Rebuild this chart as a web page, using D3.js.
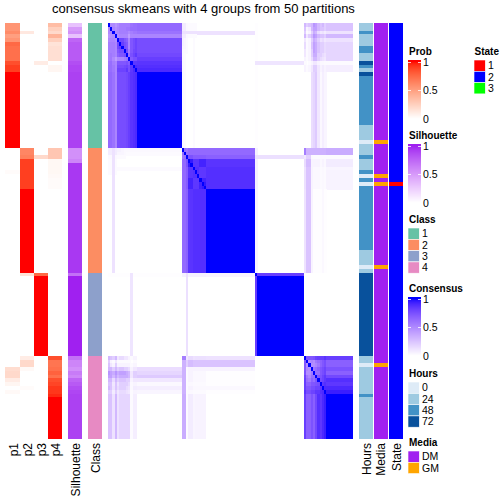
<!DOCTYPE html>
<html><head><meta charset="utf-8">
<script src="https://cdn.jsdelivr.net/npm/d3@7/dist/d3.min.js"></script>
<style>html,body{margin:0;padding:0;background:#fff}svg{display:block}text{font-family:"Liberation Sans",Arial,sans-serif;fill:#000}</style>
</head><body><svg id="c" width="504" height="504"></svg>
<script>
const title = "consensus skmeans with 4 groups from 50 partitions";
const classSizes = [33, 33, 22, 22];

const p1 = [.55,.55,.6,.5,.55,.75,.72,.72,.72,.72,.85,.9,.9,1,1,1,1,1,1,1,1,1,1,1,1,1,1,1,1,1,1,1,1,
  0,0,0,0,0,0,.02,0,0,0,0,0,0,0,0,0,0,0,0,0,0,0,0,0,0,0,0,0,0,0,0,0,0,
  0,0,0,0,0,0,0,0,0,0,0,0,0,0,0,0,0,0,0,0,0,0,
  0,0,0,.18,.2,.2,.1,.05,0,.03,0,0,0,0,0,0,0,0,0,0,0,0];
const p2 = [0,0,.12,0,0,0,0,0,0,0,0,0,0,0,0,0,0,0,0,0,0,0,0,0,0,0,0,0,0,0,0,0,0,
  .62,.62,.65,.9,.9,.9,.9,.9,.9,.9,.9,1,1,1,1,1,1,1,1,1,1,1,1,1,1,1,1,1,1,1,1,1,1,
  .15,0,0,0,0,0,0,0,0,0,0,0,0,0,0,0,0,0,0,0,0,0,
  .1,.2,.2,.03,0,0,0,0,.02,0,0,0,0,0,0,0,0,0,0,0,0,0];
const p3 = [0,0,0,0,0,0,0,0,0,0,.1,0,0,0,0,0,0,0,0,0,0,0,0,0,0,0,0,0,0,0,0,0,0,
  0,0,.2,0,0,0,0,0,0,0,0,0,0,0,0,0,0,0,0,0,0,0,0,0,0,0,0,0,0,0,0,0,0,
  .75,1,1,1,1,1,1,1,1,1,1,1,1,1,1,1,1,1,1,1,1,1,
  0,0,0,0,0,0,0,0,0,0,0,0,0,0,0,0,0,0,0,0,0,0];
const p4 = [.35,.25,.2,.4,.25,.15,.17,.17,.17,.17,0,.05,.05,0,0,0,0,0,0,0,0,0,0,0,0,0,0,0,0,0,0,0,0,
  .3,.3,.3,.04,.04,.04,.04,.03,.02,.02,.02,0,0,0,0,0,0,0,0,0,0,0,0,0,0,0,0,0,0,0,0,0,0,
  0,0,0,0,0,0,0,0,0,0,0,0,0,0,0,0,0,0,0,0,0,0,
  .85,.7,.7,.72,.78,.72,.85,.88,.92,.92,.95,1,1,1,1,1,1,1,1,1,1,1];
const silhouette = [.3,.5,.55,.3,.75,.8,.8,.8,.8,.8,.85,.88,.88,.9,.9,.9,.9,.9,.9,.9,.9,.9,.9,.9,.9,.9,.9,.9,.9,.9,.9,.9,.9,
  .55,.55,.55,.6,.93,.93,.93,.93,.93,.93,.93,.93,.93,.93,.93,.93,.93,.93,.93,.93,.93,.93,.93,.93,.93,.93,.93,.93,.93,.93,.93,.93,.93,
  .7,1,1,1,1,1,1,1,1,1,1,1,1,1,1,1,1,1,1,1,1,1,
  .7,.6,.6,.55,.65,.6,.75,.8,.85,.88,.9,.9,.9,.9,.9,.9,.9,.9,.9,.9,.9,.9];
const hours = [24,24,48,24,24,24,48,48,24,24,72,48,24,72,48,48,48,48,48,48,48,48,48,48,48,48,48,
  24,24,24,24,0,24,24,24,48,24,24,24,48,0,48,0,
  48,48,48,48,48,48,48,48,48,48,48,48,48,48,48,48,48,24,24,24,24,0,24,
  72,72,72,72,72,72,72,72,72,72,72,72,72,72,72,72,72,72,72,72,72,72,
  24,24,0,24,24,24,24,24,24,24,48,24,24,24,24,24,24,24,24,24,24,24];
const gmRows = [31, 40, 42, 64, 90];
const stateOneRows = [42];

/* consensus, as blocks of a symmetric table: items of equal profile share a band */
const bandSizes = [1,1,1,1,1,1,1,1,1,1,1,1,1,20, 1,1,1,1,1,1,1,1,1,1,1,22, 1,21, 1,1,1,1,1,1,1,1,1,1,12];
const c1Within = [
 [1,.5,.5,.45,.5,.55,.55,.55,.55,.55,.6,.62,.62,.64],
 [1,.52,.48,.52,.55,.55,.55,.58,.58,.62,.62,.62,.64],
 [1,.5,.52,.55,.55,.55,.55,.5,.55,.58,.58,.6],
 [1,.48,.52,.52,.52,.52,.42,.52,.52,.52,.52],
 [1,.78,.78,.72,.68,.52,.72,.76,.8,.76],
 [1,.82,.76,.72,.52,.72,.76,.8,.76],
 [1,.76,.72,.52,.72,.76,.8,.76],
 [1,.76,.56,.72,.78,.8,.76],
 [1,.6,.75,.8,.85,.78],
 [1,.7,.75,.75,.82],
 [1,.85,.85,.86],
 [1,.9,.88],
 [1,.9],
 [1]];
const c2Within = [
 [1,.62,.58,.64,.64,.64,.64,.64,.64,.64,.64,.64],
 [1,.62,.64,.64,.64,.64,.64,.64,.64,.64,.64],
 [1,.74,.74,.7,.7,.7,.7,.7,.7,.68],
 [1,.95,.86,.86,.86,.92,.92,.92,.86],
 [1,.86,.86,.86,.92,.92,.92,.86],
 [1,.88,.88,.85,.85,.85,.88],
 [1,.88,.85,.85,.85,.88],
 [1,.85,.85,.85,.88],
 [1,.92,.92,.88],
 [1,.95,.88],
 [1,.88],
 [1]];
const c3Within = [[1,.82],[1]];
const c4Within = [
 [1,.72,.72,.72,.74,.8,.82,.82,.82,.86,.82],
 [1,.48,.52,.48,.58,.62,.67,.72,.76,.68],
 [1,.48,.48,.52,.58,.67,.72,.76,.68],
 [1,.58,.62,.67,.72,.76,.8,.74],
 [1,.62,.62,.72,.76,.8,.68],
 [1,.72,.74,.8,.85,.78],
 [1,.76,.8,.85,.88],
 [1,.85,.88,.85],
 [1,.9,.9],
 [1,.94],
 [1]];
const c1c2 = [
 [.08,.08,.03,.02,.02,.02,.02,0,0,0,0,0],
 [.08,.08,.03,.02,.02,.02,.02,0,0,0,0,0],
 [.12,.12,.12,.12,.12,.12,.12,.12,.12,.12,.12,.12],
 [.08,.08,.03,.02,.02,.02,.02,0,0,0,0,0],
 [.06,.04,.02,0,0,.02,0,0,0,0,0,0],
 [.06,.04,.02,0,0,.02,0,0,0,0,0,0],
 [.04,.04,.02,0,0,.02,0,0,0,0,0,0],
 [.03,.03,.02,0,0,.02,0,0,0,0,0,0],
 [.03,.02,0,0,0,.02,0,0,0,0,0,0],
 [.03,.02,0,0,0,.02,0,0,0,0,0,0],
 [.03,.02,0,0,0,.02,0,0,0,0,0,0],
 [.03,.02,0,0,0,.02,0,0,0,0,0,0],
 [.03,.02,0,0,0,.02,0,0,0,0,0,0],
 [.03,.02,0,0,0,.02,0,0,0,0,0,0]];
const c1c3 = [[.01,0],[.01,0],[.01,0],[.01,0],[.01,0],[.01,0],[.01,0],[.01,0],[.01,0],[.01,0],[.11,.11],[.01,0],[.01,0],[.01,0]];
const c1c4 = [
 [.3,.2,.25,.3,.45,.4,.3,.25,.3,.2,.25],
 [.25,.05,.1,.3,.4,.4,.3,.25,.25,.2,.25],
 [.2,.02,.05,.2,.35,.3,.15,.1,.12,.08,.12],
 [.3,.1,.2,.3,.45,.4,.3,.25,.25,.2,.3],
 [.1,.02,.05,.2,.35,.3,.2,.12,.15,.1,.12],
 [.15,.02,.05,.25,.4,.35,.25,.2,.2,.15,.17],
 [.15,.02,.05,.25,.4,.35,.25,.2,.2,.15,.17],
 [.1,.02,.05,.2,.4,.35,.25,.2,.2,.15,.17],
 [.1,.02,.05,.2,.35,.35,.2,.2,.15,.12,.17],
 [.05,.02,.05,.15,.3,.3,.2,.15,.12,.1,.17],
 [.02,0,.02,.05,.1,.1,.05,.03,.03,.02,.02],
 [.05,.02,.04,.1,.2,.2,.1,.05,.08,.05,.07],
 [.05,.02,.04,.1,.2,.2,.1,.05,.08,.05,.07],
 [0,0,0,.14,.17,.22,.1,.03,.07,.04,0]];
const c2c3 = [[.06,0],[.06,0],[.13,.13],[.06,0],[.06,0],[.06,0],[.06,0],[.06,0],[.06,0],[.06,0],[.06,0],[.05,0]];
const c2c4 = [
 [.55,.33,.33,.33,.33,.33,.33,.33,.33,.33,.35],
 [.55,.33,.33,.33,.33,.33,.33,.33,.33,.33,.35],
 [.1,.2,.2,.03,.02,.02,.02,.02,.02,.02,.02],
 [.15,.28,.28,.05,.05,.05,.05,.03,.05,.03,.08],
 [.15,.28,.28,.05,.05,.05,.05,.03,.05,.03,.08],
 [.12,.25,.25,.05,.03,.03,.03,.02,.03,.02,.04],
 [.13,.25,.25,.05,.03,.03,.03,.02,.03,.02,.05],
 [.13,.25,.25,.05,.03,.03,.03,.02,.03,.02,.05],
 [.13,.25,.25,.05,.03,.03,.03,.02,.03,.02,.05],
 [.13,.25,.25,.05,.03,.03,.03,.02,.03,.02,.05],
 [.13,.25,.25,.05,.03,.03,.03,.02,.03,.02,.05],
 [.12,.25,.25,.05,.01,.01,.01,.01,.03,.01,0]];

const classColors = ["#66C2A5","#FC8D62","#8DA0CB","#E78AC3"];
const hourLevels = [0,24,48,72];
const hourColors = ["#DEEBF7","#9ECAE1","#4292C6","#08519C"];
const mediaLevels = ["DM","GM"];
const mediaColors = ["#A020F0","#FFA500"];
const stateLevels = ["1","2","3"];
const stateColors = ["#FF0000","#0000FF","#00FF00"];

/* assemble band table */
const nb = bandSizes.length;
const T = d3.range(nb).map(() => new Array(nb).fill(0));
function tri(block, off){ block.forEach((r,i)=>r.forEach((v,k)=>{const j=i+k; T[off+i][off+j]=v; T[off+j][off+i]=v;})); }
function cross(block, a, b){ block.forEach((r,i)=>r.forEach((v,j)=>{T[a+i][b+j]=v; T[b+j][a+i]=v;})); }
tri(c1Within,0); tri(c2Within,14); tri(c3Within,26); tri(c4Within,28);
cross(c1c2,0,14); cross(c1c3,0,26); cross(c1c4,0,28); cross(c2c3,14,26); cross(c2c4,14,28);
const itemBand = bandSizes.flatMap((n,b)=>d3.range(n).map(()=>b));
const N = itemBand.length;
const items = d3.range(N);

const classOf = classSizes.flatMap((n,c)=>d3.range(n).map(()=>c));
const svg = d3.select("#c");
const y = d3.scaleBand().domain(items).range([23,439]);
const xm = d3.scaleBand().domain(items).range([108,353]);
const white = "#FFFFFF";
const cProb = d3.scaleLinear().domain([0,1]).range([white,"#FF0000"]).interpolate(d3.interpolateLab);
const cSil = d3.scaleLinear().domain([0,1]).range([white,"#A020F0"]).interpolate(d3.interpolateLab);
const cCons = d3.scaleLinear().domain([0,1]).range([white,"#0000FF"]).interpolate(d3.interpolateLab);
const cHours = d3.scaleOrdinal(hourLevels,hourColors);

/* annotation columns */
function column(x0,x1,colorOf){
  svg.append("g").attr("shape-rendering","crispEdges").selectAll("rect").data(items).join("rect")
    .attr("x",x0).attr("width",x1-x0).attr("y",i=>y(i)).attr("height",y.bandwidth()+.3)
    .attr("fill",colorOf);
}
[[5,20,p1],[20,34,p2],[34,48,p3],[48,62,p4]].forEach(([a,b,s])=>column(a,b,i=>cProb(s[i])));
column(68,82,i=>cSil(silhouette[i]));
column(88,102,i=>classColors[classOf[i]]);
column(359,373,i=>cHours(hours[i]));
column(374,388,i=>gmRows.includes(i)?mediaColors[1]:mediaColors[0]);
column(389,403,i=>stateOneRows.includes(i)?stateColors[0]:stateColors[1]);

/* consensus cells */
const cells = items.flatMap(r=>items.map(c=>({r,c,v:T[itemBand[r]][itemBand[c]]})));
svg.append("g").attr("shape-rendering","crispEdges").selectAll("rect").data(cells.filter(d=>d.v>0)).join("rect")
  .attr("x",d=>xm(d.c)).attr("y",d=>y(d.r)).attr("width",xm.bandwidth()+.3).attr("height",y.bandwidth()+.3)
  .attr("fill",d=>cCons(d.v));

/* labels */
svg.append("text").attr("x",203.5).attr("y",13).attr("text-anchor","middle").attr("font-size",13).text(title);
[["p1",14],["p2",28],["p3",42],["p4",56],["Silhouette",76],["Class",96],["Hours",367],["Media",381],["State",397]].forEach(([t,x])=>{
  svg.append("text").attr("transform",`translate(${x+4},443) rotate(-90)`).attr("text-anchor","end").attr("font-size",12).text(t);
});

/* legends */
function ltitle(t,x,yy){ svg.append("text").attr("x",x).attr("y",yy).attr("font-size",10).attr("font-weight","bold").text(t); }
function bar(t,topY,scale){
  ltitle(t,409,topY-5.5);
  const ys = d3.scaleLinear().domain([0,1]).range([topY+58.7,topY+1.7]);
  const g = svg.append("g").attr("shape-rendering","crispEdges");
  g.selectAll("rect").data(d3.range(topY,topY+59)).join("rect")
    .attr("x",408).attr("width",13).attr("y",d=>d).attr("height",1)
    .attr("fill",d=>scale(Math.min(1,Math.max(0,ys.invert(d+.5)))));
  [1,.5,0].forEach(v=>{
    const py=Math.round(ys(v));
    if(v>0){[408,418].forEach(x=>g.append("rect").attr("x",x).attr("width",3).attr("y",py).attr("height",1).attr("fill","#fff").attr("fill-opacity",.8));}
    svg.append("text").attr("x",423).attr("y",ys(v)+3.8).attr("font-size",10.5).text(v);
  });
}
bar("Prob",60,cProb);
bar("Silhouette",144,cSil);
bar("Consensus",297,cCons);
function swatches(t,x,topY,labels,colors){
  ltitle(t,x+(t==="State"?.5:1),topY-5.5);
  const st=11.3;
  labels.forEach((l,i)=>{
    svg.append("rect").attr("x",x).attr("y",topY+i*st).attr("width",st).attr("height",st)
      .attr("fill",colors[i]).attr("stroke","#fff").attr("stroke-width",.6);
    svg.append("text").attr("x",x+14).attr("y",topY+i*st+st/2+3.8).attr("font-size",10.5).text(l);
  });
}
swatches("Class",408,228,["1","2","3","4"],classColors);
swatches("Hours",408,382,hourLevels.map(String),hourColors);
swatches("Media",408,451,mediaLevels,mediaColors);
swatches("State",474,60,stateLevels,stateColors);
</script></body></html>
